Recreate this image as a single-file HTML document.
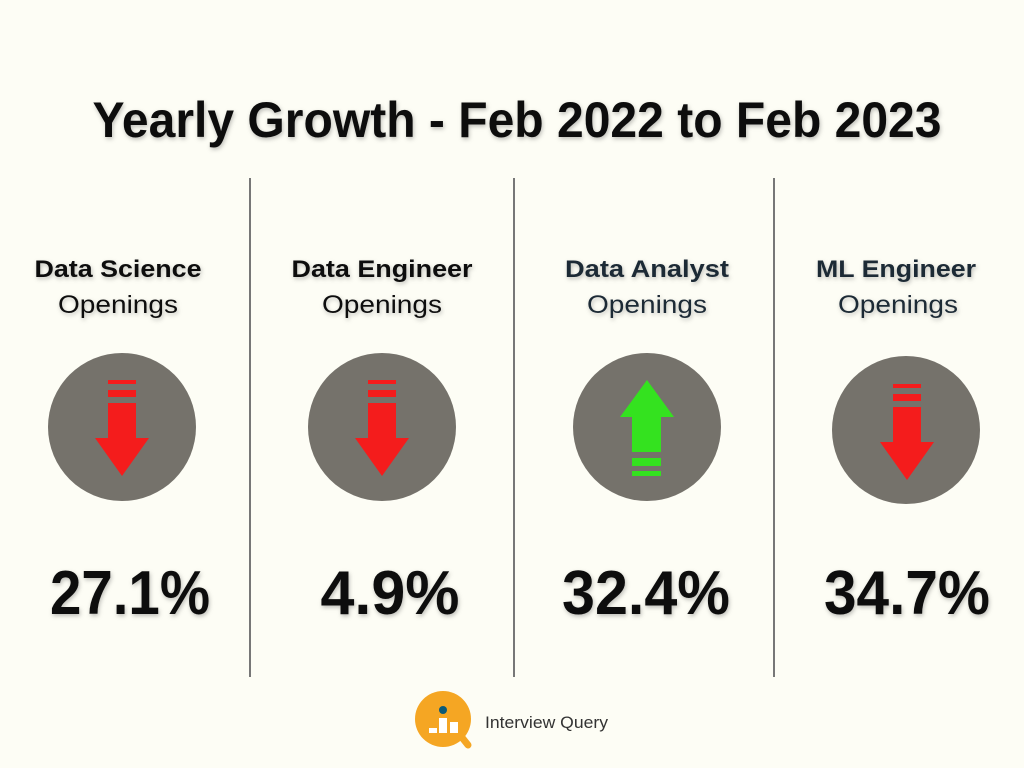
<!DOCTYPE html>
<html><head><meta charset="utf-8"><style>
html,body{margin:0;padding:0;background:#fdfdf5;}
svg{display:block}
text{font-family:"Liberation Sans",sans-serif;}
</style></head><body>
<svg width="1024" height="768" viewBox="0 0 1024 768">
<defs><filter id="sh" x="-10%" y="-10%" width="120%" height="130%"><feDropShadow dx="1" dy="2" stdDeviation="2" flood-color="#000" flood-opacity="0.25"/></filter></defs>
<rect width="1024" height="768" fill="#fdfdf5"/>
<text x="517" y="137" font-size="50" font-weight="bold" text-anchor="middle" textLength="849" lengthAdjust="spacingAndGlyphs" fill="#111" filter="url(#sh)">Yearly Growth - Feb 2022 to Feb 2023</text>
<g stroke="#777" stroke-width="2"><line x1="250" y1="178" x2="250" y2="677"/><line x1="514" y1="178" x2="514" y2="677"/><line x1="774" y1="178" x2="774" y2="677"/></g>
<g font-size="24" font-weight="bold" text-anchor="middle" filter="url(#sh)">
<text x="118" y="277" textLength="167" lengthAdjust="spacingAndGlyphs" fill="#111">Data Science</text>
<text x="382" y="277" textLength="181" lengthAdjust="spacingAndGlyphs" fill="#111">Data Engineer</text>
<text x="647" y="277" textLength="164" lengthAdjust="spacingAndGlyphs" fill="#1d2a36">Data Analyst</text>
<text x="896" y="277" textLength="160" lengthAdjust="spacingAndGlyphs" fill="#1d2a36">ML Engineer</text>
</g>
<g font-size="25" text-anchor="middle" fill="#111" filter="url(#sh)">
<text x="118" y="313" textLength="120" lengthAdjust="spacingAndGlyphs">Openings</text>
<text x="382" y="313" textLength="120" lengthAdjust="spacingAndGlyphs">Openings</text>
<text x="647" y="313" textLength="120" lengthAdjust="spacingAndGlyphs" fill="#1d2a36">Openings</text>
<text x="898" y="313" textLength="120" lengthAdjust="spacingAndGlyphs" fill="#1d2a36">Openings</text>
</g>
<g fill="#75726b"><circle cx="122" cy="427" r="74"/><circle cx="382" cy="427" r="74"/><circle cx="647" cy="427" r="74"/><circle cx="906" cy="430" r="74"/></g>
<g id="dn" fill="#f41c1c"><rect x="108" y="380" width="28" height="4"/><rect x="108" y="390" width="28" height="7"/><rect x="108" y="403" width="28" height="35"/><polygon points="95,438 149,438 122,476"/></g>
<use href="#dn" transform="translate(260,0)"/>
<use href="#dn" transform="translate(785,4)"/>
<g fill="#34e21f"><polygon points="647,380 674,417 620,417"/><rect x="632" y="417" width="29" height="35"/><rect x="632" y="458" width="29" height="8"/><rect x="632" y="471" width="29" height="5"/></g>
<g font-size="62" font-weight="bold" text-anchor="middle" fill="#111" filter="url(#sh)">
<text x="130" y="614" textLength="160" lengthAdjust="spacingAndGlyphs">27.1%</text>
<text x="390" y="614" textLength="139" lengthAdjust="spacingAndGlyphs">4.9%</text>
<text x="646" y="614" textLength="168" lengthAdjust="spacingAndGlyphs">32.4%</text>
<text x="907" y="614" textLength="166" lengthAdjust="spacingAndGlyphs">34.7%</text>
</g>
<g>
<line x1="460" y1="735" x2="468" y2="745" stroke="#f5a623" stroke-width="7" stroke-linecap="round"/>
<circle cx="443" cy="719" r="28" fill="#f5a623"/>
<circle cx="443" cy="710" r="4" fill="#0b5a78"/>
<rect x="429" y="728" width="8" height="5" fill="#fff"/>
<rect x="439" y="718" width="8" height="15" fill="#fff"/>
<rect x="450" y="722" width="8" height="11" fill="#fff"/>
<text x="485" y="728" font-size="17" fill="#333" textLength="123" lengthAdjust="spacingAndGlyphs">Interview Query</text>
</g>
</svg>
</body></html>
